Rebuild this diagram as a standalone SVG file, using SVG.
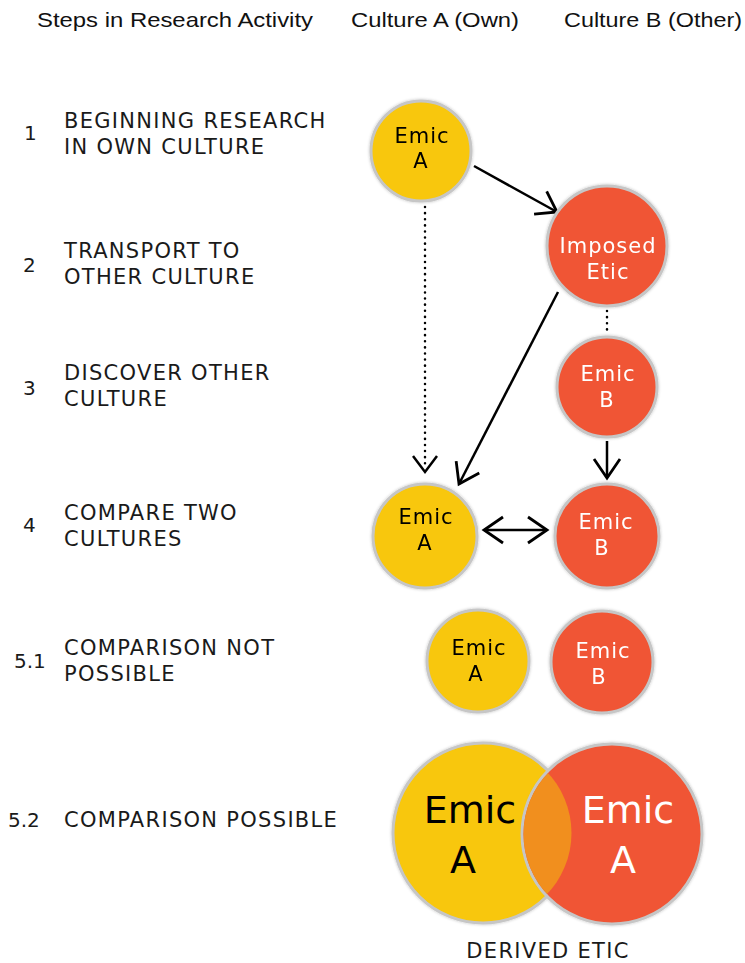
<svg xmlns="http://www.w3.org/2000/svg" width="745" height="963" viewBox="0 0 745 963">
  <defs>
    <marker id="open" viewBox="0 0 24 30" refX="21" refY="15" markerWidth="24" markerHeight="30" markerUnits="userSpaceOnUse" orient="auto-start-reverse">
      <path d="M2,2 L21,15 L2,28" fill="none" stroke="#000" stroke-width="2.8"/>
    </marker>
    <filter id="soft" x="-20%" y="-20%" width="140%" height="140%">
      <feGaussianBlur in="SourceAlpha" stdDeviation="1.5"/>
      <feOffset dx="0" dy="0" result="b"/>
      <feFlood flood-color="#000" flood-opacity="0.25"/>
      <feComposite in2="b" operator="in"/>
      <feMerge><feMergeNode/><feMergeNode in="SourceGraphic"/></feMerge>
    </filter>
  </defs>
  <style>
    .hdr { font-family: "Liberation Sans", Arial, sans-serif; font-size: 21px; fill: #111; }
    .step { font-family: "DejaVu Sans", sans-serif; font-size: 21px; letter-spacing: 1.3px; fill: #1a1a1a; }
    .num { font-family: "DejaVu Sans", sans-serif; font-size: 20px; fill: #1a1a1a; }
    .yel { fill: #F8C70A; stroke: #c6c6c6; stroke-width: 3; }
    .red { fill: #F05535; stroke: #c6c6c6; stroke-width: 3; }
    .lab { font-family: "DejaVu Sans", sans-serif; font-size: 21px; letter-spacing: 1px; text-anchor: middle; }
    .dark { fill: #000; }
    .light { fill: #fff; }
    .big { font-family: "DejaVu Sans", sans-serif; font-size: 38px; text-anchor: middle; }
    .conn { stroke: #000; stroke-width: 2.5; fill: none; }
    .dot { stroke: #000; stroke-width: 2.5; fill: none; stroke-dasharray: 0.1 6; stroke-linecap: round; }
  </style>

  <!-- column headers -->
  <g id="headers">
    <text class="hdr" x="37" y="27" textLength="276" lengthAdjust="spacingAndGlyphs">Steps in Research Activity</text>
    <text class="hdr" x="351" y="27" textLength="168" lengthAdjust="spacingAndGlyphs">Culture A (Own)</text>
    <text class="hdr" x="564" y="27" textLength="178" lengthAdjust="spacingAndGlyphs">Culture B (Other)</text>
  </g>

  <!-- step labels -->
  <g id="steps">
    <text class="num" x="24" y="140">1</text>
    <text class="step" x="64" y="128">BEGINNING RESEARCH</text>
    <text class="step" x="64" y="154">IN OWN CULTURE</text>
    <text class="num" x="23" y="272">2</text>
    <text class="step" x="64" y="258">TRANSPORT TO</text>
    <text class="step" x="64" y="284">OTHER CULTURE</text>
    <text class="num" x="23" y="395">3</text>
    <text class="step" x="64" y="380">DISCOVER OTHER</text>
    <text class="step" x="64" y="406">CULTURE</text>
    <text class="num" x="23" y="532">4</text>
    <text class="step" x="64" y="520">COMPARE TWO</text>
    <text class="step" x="64" y="546">CULTURES</text>
    <text class="num" x="14" y="668">5.1</text>
    <text class="step" x="64" y="655">COMPARISON NOT</text>
    <text class="step" x="64" y="681">POSSIBLE</text>
    <text class="num" x="8" y="827">5.2</text>
    <text class="step" x="64" y="827">COMPARISON POSSIBLE</text>
  </g>

  <!-- connectors -->
  <g id="connectors">
    <line class="conn" x1="474" y1="166" x2="557" y2="212" marker-end="url(#open)"/>
    <line class="dot" x1="425" y1="207" x2="425" y2="468"/>
    <path class="conn" d="M413,456 L425,472 L437,456"/>
    <line class="conn" x1="558" y1="292" x2="459" y2="484" marker-end="url(#open)"/>
    <line class="dot" x1="607" y1="311" x2="607" y2="333"/>
    <line class="conn" x1="607" y1="441" x2="607" y2="478" marker-end="url(#open)"/>
    <line class="conn" x1="484" y1="530" x2="547" y2="530" marker-start="url(#open)" marker-end="url(#open)"/>
  </g>

  <g id="n1-emicA" filter="url(#soft)">
    <circle class="yel" cx="421" cy="151" r="50"/>
    <text class="lab dark" x="422" y="143">Emic</text>
    <text class="lab dark" x="421" y="168">A</text>
  </g>
  <g id="n2-imposed" filter="url(#soft)">
    <circle class="red" cx="607" cy="246" r="60"/>
    <text class="lab light" x="608" y="253">Imposed</text>
    <text class="lab light" x="608" y="279">Etic</text>
  </g>
  <g id="n3-emicB" filter="url(#soft)">
    <circle class="red" cx="607" cy="387" r="50"/>
    <text class="lab light" x="608" y="381">Emic</text>
    <text class="lab light" x="607" y="407">B</text>
  </g>
  <g id="n4-emicA" filter="url(#soft)">
    <circle class="yel" cx="425" cy="536" r="52"/>
    <text class="lab dark" x="426" y="524">Emic</text>
    <text class="lab dark" x="425" y="550">A</text>
  </g>
  <g id="n4-emicB" filter="url(#soft)">
    <circle class="red" cx="607" cy="536" r="52"/>
    <text class="lab light" x="606" y="529">Emic</text>
    <text class="lab light" x="602" y="555">B</text>
  </g>
  <g id="n51-emicA" filter="url(#soft)">
    <circle class="yel" cx="478" cy="661" r="51"/>
    <text class="lab dark" x="479" y="655">Emic</text>
    <text class="lab dark" x="476" y="681">A</text>
  </g>
  <g id="n51-emicB" filter="url(#soft)">
    <circle class="red" cx="602" cy="662" r="51"/>
    <text class="lab light" x="603" y="658">Emic</text>
    <text class="lab light" x="599" y="684">B</text>
  </g>

  <!-- overlapping pair -->
  <g id="n52-overlap">
    <g filter="url(#soft)">
      <circle class="yel" cx="483" cy="833" r="90"/>
      <circle class="red" cx="612" cy="834" r="90"/>
    </g>
    <clipPath id="clipA"><circle cx="483" cy="833" r="88.5"/></clipPath>
    <circle cx="612" cy="834" r="88.5" fill="#F18F1E" clip-path="url(#clipA)"/>
    <text class="big dark" x="470" y="823">Emic</text>
    <text class="big dark" x="463" y="873">A</text>
    <text class="big light" x="628" y="823">Emic</text>
    <text class="big light" x="623" y="873">A</text>
    <text class="step" x="548" y="958" text-anchor="middle">DERIVED ETIC</text>
  </g>
</svg>
